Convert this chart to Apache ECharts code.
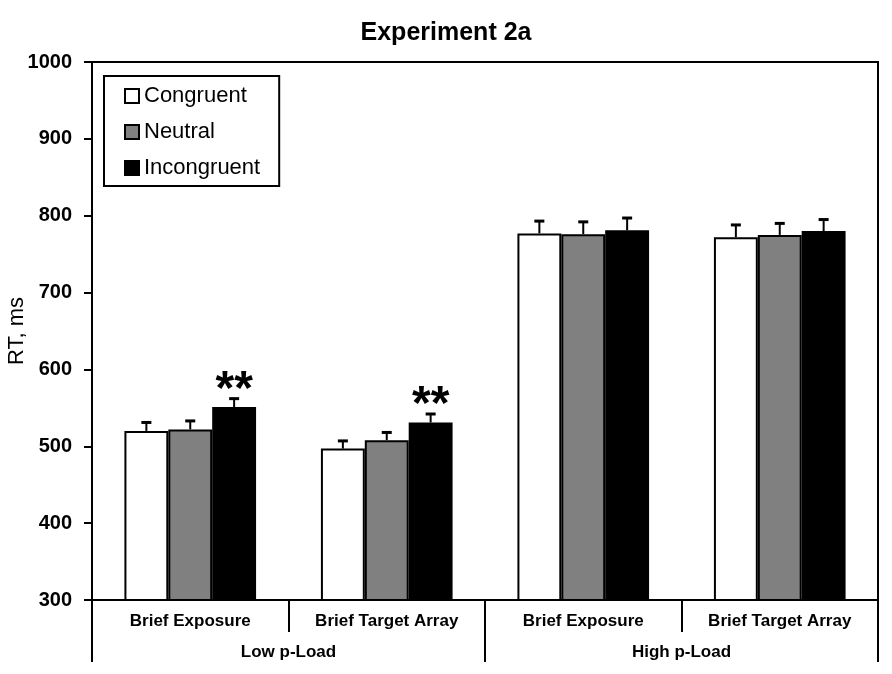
<!DOCTYPE html>
<html>
<head>
<meta charset="utf-8">
<script src="https://cdn.jsdelivr.net/npm/echarts@6/dist/echarts.min.js"></script>
<style>html,body{margin:0;padding:0;background:#fff}#c{width:892px;height:674px}</style>
</head>
<body>
<div id="c"></div>
<script>
var conditions = ['Brief Exposure', 'Brief Target Array', 'Brief Exposure', 'Brief Target Array'];
var loadGroups = ['Low p-Load', 'High p-Load'];
var seriesNames = ['Congruent', 'Neutral', 'Incongruent'];
var congruent = [520, 497, 777, 772];
var neutral = [522, 508, 776, 775];
var incongruent = [551, 531, 781, 780];
var congruentErr = [11, 10, 16, 16];
var neutralErr = [11, 10, 16, 15];
var incongruentErr = [11, 11, 16, 15];
var incongruentStars = ['**', '**', '', ''];
var yTicks = [300, 400, 500, 600, 700, 800, 900, 1000];

var FONT = '"Liberation Sans", Arial, sans-serif';
var colors = ['#ffffff', '#808080', '#000000'];
var values = [congruent, neutral, incongruent];
var errs = [congruentErr, neutralErr, incongruentErr];
var stars = [['', '', '', ''], ['', '', '', ''], incongruentStars];
var CAT_GAP = 0.33;

var chart = echarts.init(document.getElementById('c'));

function errorSeries(si) {
  var data = conditions.map(function (c, i) {
    return [i, values[si][i], errs[si][i], stars[si][i]];
  });
  return {
    type: 'custom',
    xAxisIndex: 0,
    yAxisIndex: 0,
    z: 5,
    silent: true,
    data: data,
    renderItem: function (params, api) {
      var idx = api.value(0);
      var v = api.value(1);
      var e = api.value(2);
      var s = data[params.dataIndex][3];
      var band = api.size([1, 0])[0];
      var bw = band * (1 - CAT_GAP) / 3;
      var base = api.coord([idx, v]);
      var x = base[0] + (si - 1) * bw;
      var y0 = base[1];
      var y1 = api.coord([idx, v + e])[1];
      var children = [
        { type: 'line', shape: { x1: x, y1: y0, x2: x, y2: y1 }, style: { stroke: '#000', lineWidth: 2 } },
        { type: 'line', shape: { x1: x - 5, y1: y1, x2: x + 5, y2: y1 }, style: { stroke: '#000', lineWidth: 3 } }
      ];
      if (s) {
        children.push({
          type: 'text',
          style: { text: s, x: x, y: y1 - 32, textAlign: 'center', textVerticalAlign: 'top',
                   font: 'bold 48px ' + FONT, fill: '#000' }
        });
      }
      return { type: 'group', children: children };
    }
  };
}

var series = seriesNames.map(function (n, si) {
  return {
    name: n,
    type: 'bar',
    xAxisIndex: 0,
    data: values[si],
    barGap: '0%',
    barCategoryGap: (CAT_GAP * 100) + '%',
    itemStyle: { color: colors[si], borderColor: '#000', borderWidth: 2 },
    emphasis: { disabled: true }
  };
});
for (var k = 0; k < 3; k++) series.push(errorSeries(k));

chart.setOption({
  animation: false,
  title: {
    text: 'Experiment 2a', left: 'center', top: 16,
    textStyle: { fontFamily: FONT, fontWeight: 'bold', fontSize: 25, color: '#000' }
  },
  legend: {
    data: seriesNames,
    orient: 'vertical',
    left: 104, top: 76,
    padding: [9, 19, 7, 20],
    itemGap: 14,
    itemWidth: 14, itemHeight: 14,
    icon: 'rect',
    borderColor: '#000', borderWidth: 2,
    backgroundColor: '#fff',
    itemStyle: { borderColor: '#000', borderWidth: 2 },
    textStyle: { fontFamily: FONT, fontSize: 22, color: '#000', padding: [0, 0, 0, 0] },
    selectedMode: false
  },
  grid: {
    left: 92, right: 14, top: 62, bottom: 74,
    containLabel: false,
    outerBoundsMode: 'none',
    show: true, borderColor: '#000', borderWidth: 2, backgroundColor: 'transparent'
  },
  xAxis: [
    {
      type: 'category', data: conditions, position: 'bottom',
      axisLine: { lineStyle: { color: '#000', width: 2 } },
      axisTick: { show: true, interval: 0, length: 32, lineStyle: { color: '#000', width: 2 } },
      axisLabel: { interval: 0, margin: 13, fontFamily: FONT, fontWeight: 'bold', fontSize: 17, color: '#000' }
    },
    {
      type: 'category', data: loadGroups, position: 'bottom', offset: 0,
      axisLine: { show: false },
      axisTick: { show: true, interval: 0, length: 62, lineStyle: { color: '#000', width: 2 } },
      axisLabel: { interval: 0, margin: 44, fontFamily: FONT, fontWeight: 'bold', fontSize: 17, color: '#000' }
    }
  ],
  yAxis: {
    type: 'value', min: 300, max: 1000, interval: 100,
    name: 'RT, ms', nameLocation: 'middle', nameGap: 64,
    nameMoveOverlap: false,
    nameTextStyle: { fontFamily: FONT, fontSize: 22, color: '#000' },
    axisLine: { show: true, lineStyle: { color: '#000', width: 2 } },
    axisTick: { show: true, length: 8, lineStyle: { color: '#000', width: 2 } },
    splitLine: { show: false },
    axisLabel: {
      margin: 20, fontFamily: FONT, fontWeight: 'bold', fontSize: 20, color: '#000',
      formatter: function (v) { return yTicks.indexOf(v) >= 0 ? String(v) : ''; }
    }
  },
  series: series
});
</script>
</body>
</html>
